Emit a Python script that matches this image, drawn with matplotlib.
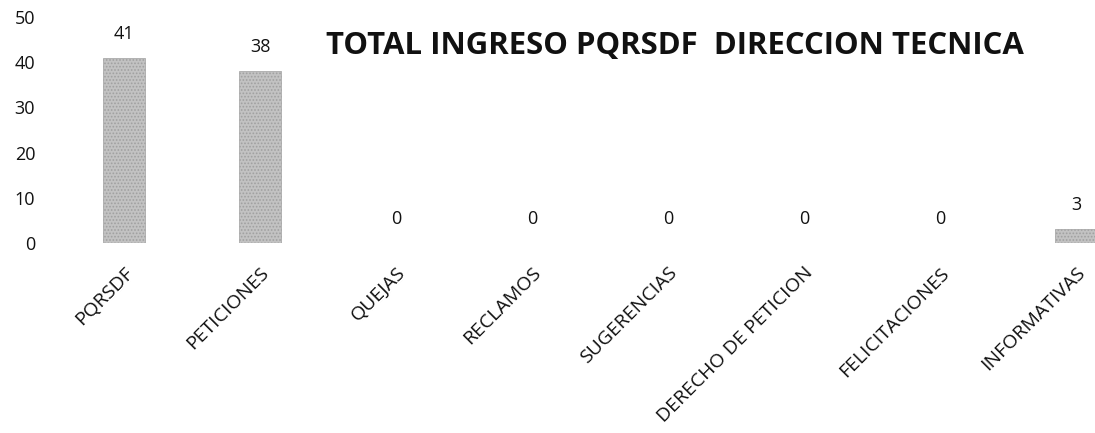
import matplotlib
matplotlib.use("Agg")
import matplotlib.pyplot as plt
import matplotlib.transforms as mtransforms

categories = ["PQRSDF", "PETICIONES", "QUEJAS", "RECLAMOS", "SUGERENCIAS",
              "DERECHO DE PETICION", "FELICITACIONES", "INFORMATIVAS"]
values = [41, 38, 0, 0, 0, 0, 0, 3]
yticks = [0, 10, 20, 30, 40, 50]
title = "TOTAL INGRESO PQRSDF  DIRECCION TECNICA"

plt.rcParams['font.family'] = ['Open Sans', 'DejaVu Sans']
plt.rcParams['hatch.color'] = '#8e8e8e'
plt.rcParams['hatch.linewidth'] = 0.8

W, H = 1095, 433
fig = plt.figure(figsize=(W / 100, H / 100), dpi=100)
left_px, right_px = 56, 1095
bottom_px, top_px = 243, 17
ax = fig.add_axes([left_px / W, (H - bottom_px) / H,
                   (right_px - left_px) / W, (bottom_px - top_px) / H])

x = list(range(len(categories)))
ax.bar(x, values, width=0.31, color='#c2c2c2', edgecolor='#a0a0a0',
       linewidth=0.5, hatch='.....')

for xi, v in zip(x, values):
    ax.annotate(str(v), (xi, v), xytext=(0, 24), textcoords='offset pixels',
                ha='center', va='center', fontsize=13, color='#111111')

ax.set_xlim(-0.5, (right_px - left_px) / 136 - 0.5)
ax.set_ylim(0, 50)
ax.set_yticks(yticks)
ax.set_xticks(x)
ax.set_xticklabels(categories, rotation=45, ha='right', va='top',
                   rotation_mode='anchor', fontsize=14)
offset = mtransforms.ScaledTranslation(-7 / 100, 0, fig.dpi_scale_trans)
for lbl in ax.get_xticklabels():
    lbl.set_transform(lbl.get_transform() + offset)
ax.tick_params(axis='both', length=0, colors='#111111')
ax.tick_params(axis='y', pad=15, labelsize=13)
ax.tick_params(axis='x', pad=15)
for s in ax.spines.values():
    s.set_visible(False)

fig.text(675 / W, 1 - 46 / H, title, ha='center', va='center',
         fontsize=22.4, fontweight='bold', color='#111111')

fig.savefig("out.png", dpi=100)
